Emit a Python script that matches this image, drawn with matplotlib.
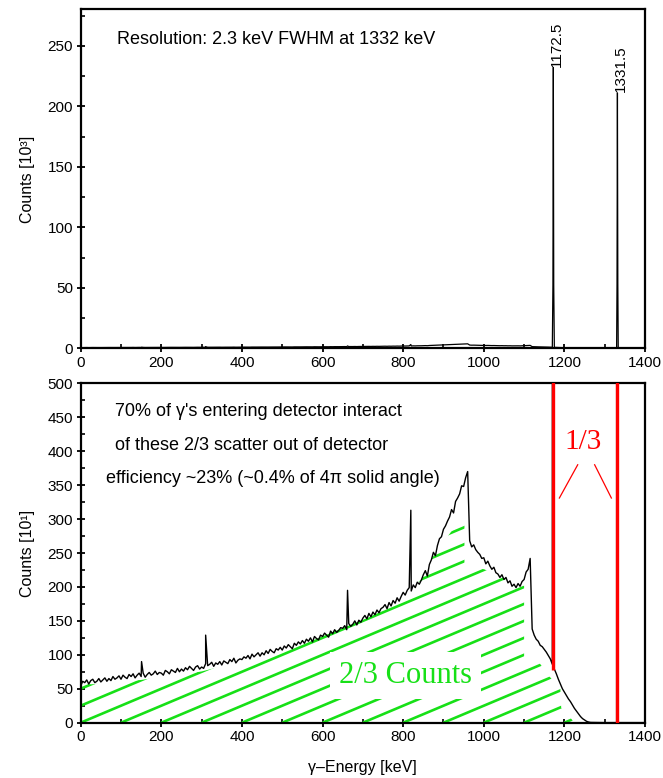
import numpy as np
import matplotlib
matplotlib.use("Agg")
import matplotlib.pyplot as plt
from matplotlib.patches import Polygon
from matplotlib.ticker import MultipleLocator

plt.rcParams['font.family'] = ['Liberation Sans', 'DejaVu Sans']

# ---------------------------------------------------------------------------
# 60Co gamma spectrum measured with a HPGe detector
# continuum in 5 keV channels starting at 0 keV, counts in units of 10
# ---------------------------------------------------------------------------
continuum_start_kev = 0
continuum_step_kev = 5
continuum_counts = [
    54, 61, 59, 63, 57, 62, 64, 59, 61, 65,
    60, 63, 66, 61, 65, 62, 68, 64, 66, 69,
    64, 70, 67, 65, 71, 68, 72, 66, 70, 73,
    68, 73, 67, 71, 74, 70, 72, 76, 71, 74,
    73, 70, 77, 75, 72, 78, 76, 74, 80, 75,
    79, 76, 81, 78, 83, 80, 77, 82, 84, 79,
    82, 80, 87, 84, 86, 89, 83, 88, 86, 90,
    85, 91, 89, 87, 93, 90, 95, 88, 92, 94,
    93, 97, 95, 99, 94, 101, 97, 100, 103, 98,
    103, 100, 106, 102, 108, 105, 103, 109, 107, 111,
    107, 113, 110, 115, 112, 109, 117, 114, 119, 116,
    121, 117, 123, 120, 125, 119, 127, 124, 122, 129,
    127, 132, 129, 126, 135, 131, 137, 133, 136, 140,
    139, 143, 137, 146, 142, 145, 150, 144, 151, 148,
    154, 158, 153, 161, 156, 163, 159, 166, 162, 168,
    170, 174, 168, 177, 172, 180, 176, 184, 179, 186,
    192, 188, 195, 199, 194, 203, 199, 207, 204, 210,
    218, 224, 216, 233, 240, 251, 246, 261, 271, 274,
    285, 290, 297, 303, 314, 309, 326, 331, 337, 349,
    348, 361, 370, 268, 259, 262, 255, 251, 248, 242,
    243, 234, 238, 231, 226, 229, 221, 219, 214, 218,
    211, 214, 206, 209, 201, 204, 199, 205, 201, 208,
    211, 222, 226, 242, 138, 129, 123, 120, 114, 112,
    108, 104, 99, 94, 86, 79, 72, 64, 57, 50,
    45, 40, 35, 31, 26, 21, 17, 13, 9, 6,
    4, 2, 1, 0.4,
]

# weak background lines on top of the continuum
line_energy = [151, 310, 662, 819]
line_counts = [90, 129, 195, 313]

# the two full-energy peaks
photopeak_energy = [1172.5, 1331.5]
photopeak_counts = [23200, 21100]
photopeak_shoulder = [5200, 5300]
photopeak_foot = [77, 0]

# nearly empty channels above the Compton continuum
tail_energy = [1300, 1329.5, 1333.5, 1400]
tail_counts = [0.1, 0.1, 0.1, 0.1]

# outline of the Compton (scattered) part of the spectrum
hatch_x = [0, 0, 26, 150, 300, 450, 600, 718, 800, 847, 872, 921, 952, 952,
           1001, 1050, 1080, 1100, 1100, 1138, 1163, 1190, 1192, 1218, 1224]
hatch_y = [0, 58, 56.5, 63, 75.5, 98, 128, 156, 188, 212, 243, 283, 292, 232,
           226, 213, 203, 202, 96, 88, 68, 50, 22, 5, 0]
hatch_offsets = [-200, -100, 0, 100, 200, 300, 400, 500, 600, 700, 800, 900,
                 1000, 1100, 1200]
hatch_slope = 0.25

# pointers from the "1/3" note to the two peaks
pointer_left_x, pointer_left_y = [1187.5, 1233], [331, 380]
pointer_right_x, pointer_right_y = [1275, 1316.5], [380, 331]

x_ticks_major, x_ticks_minor = 200, 100

GREEN = '#17e017'
RED = '#ff0000'

# ---------------------------------------------------------------------------
pe = np.asarray(photopeak_energy, float)
n_cont = len(continuum_counts)
cont_e = continuum_start_kev + continuum_step_kev * np.arange(n_cont)

energy = np.concatenate([cont_e, line_energy, pe, pe - 1, pe + 1, tail_energy])
counts = np.concatenate([continuum_counts, line_counts, photopeak_counts,
                         photopeak_shoulder, photopeak_shoulder, tail_counts])
order = np.argsort(energy, kind='stable')
energy, counts = energy[order], counts[order]

fig = plt.figure(figsize=(6.63, 7.78), dpi=100)
ax1 = fig.add_axes([0.1217, 0.5523, 0.8512, 0.4355])
ax2 = fig.add_axes([0.1217, 0.0711, 0.8512, 0.4362])


def style_axes(ax, ymajor, yminor):
    ax.xaxis.set_major_locator(MultipleLocator(x_ticks_major))
    ax.xaxis.set_minor_locator(MultipleLocator(x_ticks_minor))
    ax.yaxis.set_major_locator(MultipleLocator(ymajor))
    ax.yaxis.set_minor_locator(MultipleLocator(yminor))
    ax.tick_params(which='major', direction='inout', length=6, width=1.3,
                   labelsize=11, pad=2.5, top=False, right=False)
    ax.tick_params(which='minor', direction='in', length=3, width=1.2,
                   top=False, right=False)
    for side in ('left', 'bottom', 'top', 'right'):
        ax.spines[side].set_linewidth(1.6)
    ax.set_xlim(0, 1400)


# ---- upper panel: full scale -------------------------------------------------
ax1.plot(energy, counts / 100.0, color='black', lw=0.9)
ax1.set_ylim(0, 280)
style_axes(ax1, 50, 25)
ax1.set_ylabel('Counts [10³]', fontsize=11.5, labelpad=9)
ax1.text(90, 255, 'Resolution: 2.3 keV FWHM at 1332 keV', fontsize=13,
         va='center', ha='left')
for e, c in zip(photopeak_energy, photopeak_counts):
    ax1.annotate(f'{e:.1f}', (e, c / 100.0), xytext=(-2.2, 0.5),
                 textcoords='offset points', rotation=90, ha='left',
                 va='bottom', fontsize=11)

# ---- lower panel: continuum ---------------------------------------------------
clip = Polygon(np.column_stack([hatch_x, hatch_y]), closed=True,
               transform=ax2.transData)
for x0 in hatch_offsets:
    ln, = ax2.plot([x0, x0 + 2000], [0, 2000 * hatch_slope], color=GREEN,
                   lw=1.9, zorder=2, solid_capstyle='butt')
    ln.set_clip_path(clip)

ax2.plot(energy, counts, color='black', lw=1.0, zorder=3)
ax2.vlines(photopeak_energy, photopeak_foot, photopeak_counts, color=RED,
           lw=2.4, zorder=4)
ax2.plot(pointer_left_x, pointer_left_y, color=RED, lw=0.9, zorder=4)
ax2.plot(pointer_right_x, pointer_right_y, color=RED, lw=0.9, zorder=4)

ax2.set_ylim(0, 500)
style_axes(ax2, 50, 25)
ax2.set_ylabel('Counts [10¹]', fontsize=11.5, labelpad=9)
ax2.set_xlabel('γ–Energy [keV]', fontsize=11.5, labelpad=11)

ax2.text(86, 458, "70% of γ's entering detector interact", fontsize=13,
         va='center', ha='left')
ax2.text(86, 409, 'of these 2/3 scatter out of detector', fontsize=13,
         va='center', ha='left')
ax2.text(63, 360, 'efficiency ~23% (~0.4% of 4π solid angle)', fontsize=13,
         va='center', ha='left')

ax2.text(1247, 414, '1/3', color=RED, fontsize=21, family='Liberation Serif',
         ha='center', va='center', zorder=5)
ax2.text(806, 70, '2/3 Counts', color=GREEN, fontsize=22,
         family='Liberation Serif', ha='center', va='center', zorder=2.5,
         bbox=dict(facecolor='white', edgecolor='none',
                   boxstyle='square,pad=0.3'))

fig.savefig('out.png', dpi=100)
